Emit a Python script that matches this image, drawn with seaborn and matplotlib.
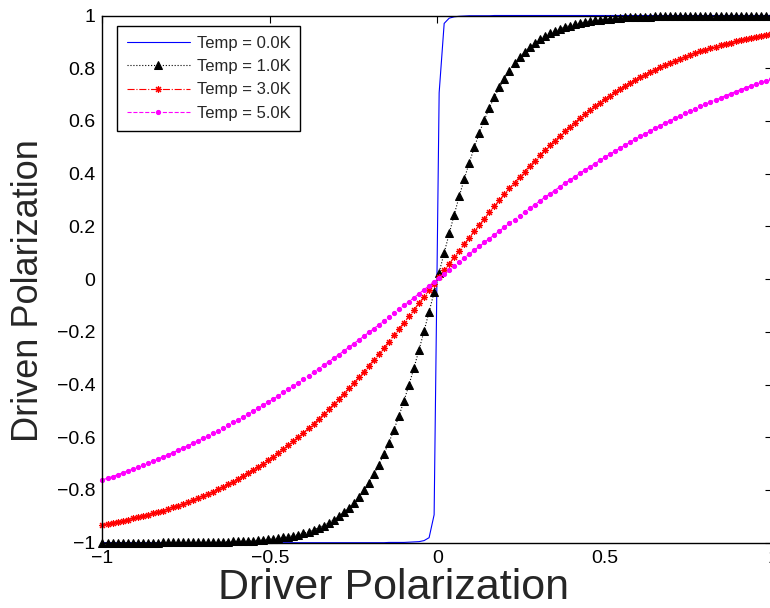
import numpy as np
import matplotlib
matplotlib.use("Agg")
import matplotlib.pyplot as plt
from matplotlib.ticker import FuncFormatter
import seaborn as sns

# %% — data (driver polarization grid, step 0.015)
driver_pol = [
    -1.000, -0.985, -0.970, -0.955, -0.940, -0.925, -0.910, -0.895, -0.880, -0.865,
    -0.850, -0.835, -0.820, -0.805, -0.790, -0.775, -0.760, -0.745, -0.730, -0.715,
    -0.700, -0.685, -0.670, -0.655, -0.640, -0.625, -0.610, -0.595, -0.580, -0.565,
    -0.550, -0.535, -0.520, -0.505, -0.490, -0.475, -0.460, -0.445, -0.430, -0.415,
    -0.400, -0.385, -0.370, -0.355, -0.340, -0.325, -0.310, -0.295, -0.280, -0.265,
    -0.250, -0.235, -0.220, -0.205, -0.190, -0.175, -0.160, -0.145, -0.130, -0.115,
    -0.100, -0.085, -0.070, -0.055, -0.040, -0.025, -0.010, 0.005, 0.020, 0.035,
    0.050, 0.065, 0.080, 0.095, 0.110, 0.125, 0.140, 0.155, 0.170, 0.185,
    0.200, 0.215, 0.230, 0.245, 0.260, 0.275, 0.290, 0.305, 0.320, 0.335,
    0.350, 0.365, 0.380, 0.395, 0.410, 0.425, 0.440, 0.455, 0.470, 0.485,
    0.500, 0.515, 0.530, 0.545, 0.560, 0.575, 0.590, 0.605, 0.620, 0.635,
    0.650, 0.665, 0.680, 0.695, 0.710, 0.725, 0.740, 0.755, 0.770, 0.785,
    0.800, 0.815, 0.830, 0.845, 0.860, 0.875, 0.890, 0.905, 0.920, 0.935,
    0.950, 0.965, 0.980, 0.995,
]

temp_0K = [
    -1.0, -1.0, -1.0, -1.0, -1.0, -1.0, -1.0, -1.0, -1.0, -1.0,
    -1.0, -1.0, -1.0, -1.0, -1.0, -1.0, -1.0, -1.0, -1.0, -1.0,
    -1.0, -1.0, -1.0, -1.0, -1.0, -1.0, -1.0, -1.0, -1.0, -1.0,
    -1.0, -1.0, -1.0, -1.0, -1.0, -1.0, -1.0, -1.0, -1.0, -1.0,
    -1.0, -1.0, -1.0, -1.0, -1.0, -1.0, -1.0, -1.0, -1.0, -1.0,
    -1.0, -1.0, -1.0, -1.0, -1.0, -1.0, -1.0, -0.999, -0.999, -0.999,
    -0.999, -0.998, -0.997, -0.996, -0.992, -0.981, -0.894, 0.707, 0.970, 0.990,
    0.995, 0.997, 0.998, 0.999, 0.999, 0.999, 0.999, 0.999, 1.0, 1.0,
    1.0, 1.0, 1.0, 1.0, 1.0, 1.0, 1.0, 1.0, 1.0, 1.0,
    1.0, 1.0, 1.0, 1.0, 1.0, 1.0, 1.0, 1.0, 1.0, 1.0,
    1.0, 1.0, 1.0, 1.0, 1.0, 1.0, 1.0, 1.0, 1.0, 1.0,
    1.0, 1.0, 1.0, 1.0, 1.0, 1.0, 1.0, 1.0, 1.0, 1.0,
    1.0, 1.0, 1.0, 1.0, 1.0, 1.0, 1.0, 1.0, 1.0, 1.0,
    1.0, 1.0, 1.0, 1.0,
]

temp_1K = [
    -1.0, -1.0, -1.0, -1.0, -1.0, -1.0, -1.0, -1.0, -1.0, -1.0,
    -1.0, -1.0, -0.999, -0.999, -0.999, -0.999, -0.999, -0.999, -0.999, -0.998,
    -0.998, -0.998, -0.998, -0.997, -0.997, -0.996, -0.995, -0.995, -0.994, -0.993,
    -0.992, -0.991, -0.989, -0.987, -0.985, -0.983, -0.980, -0.977, -0.973, -0.969,
    -0.964, -0.958, -0.952, -0.944, -0.935, -0.925, -0.914, -0.900, -0.885, -0.868,
    -0.848, -0.826, -0.800, -0.772, -0.740, -0.704, -0.664, -0.620, -0.572, -0.519,
    -0.462, -0.401, -0.336, -0.268, -0.197, -0.124, -0.050, 0.025, 0.100, 0.173,
    0.245, 0.314, 0.380, 0.442, 0.500, 0.555, 0.604, 0.650, 0.691, 0.728,
    0.761, 0.791, 0.818, 0.841, 0.862, 0.880, 0.896, 0.909, 0.922, 0.932,
    0.941, 0.949, 0.956, 0.962, 0.967, 0.972, 0.976, 0.979, 0.982, 0.984,
    0.987, 0.988, 0.990, 0.991, 0.993, 0.994, 0.995, 0.995, 0.996, 0.996,
    0.997, 0.997, 0.998, 0.998, 0.998, 0.999, 0.999, 0.999, 0.999, 0.999,
    0.999, 0.999, 0.999, 1.0, 1.0, 1.0, 1.0, 1.0, 1.0, 1.0,
    1.0, 1.0, 1.0, 1.0,
]

temp_3K = [
    -0.931, -0.928, -0.924, -0.920, -0.916, -0.912, -0.908, -0.904, -0.899, -0.894,
    -0.889, -0.884, -0.878, -0.872, -0.866, -0.860, -0.853, -0.846, -0.839, -0.831,
    -0.823, -0.815, -0.806, -0.797, -0.788, -0.779, -0.768, -0.758, -0.747, -0.736,
    -0.724, -0.712, -0.700, -0.687, -0.673, -0.659, -0.645, -0.630, -0.615, -0.599,
    -0.583, -0.566, -0.549, -0.531, -0.513, -0.494, -0.475, -0.456, -0.435, -0.415,
    -0.394, -0.373, -0.351, -0.329, -0.306, -0.284, -0.261, -0.237, -0.213, -0.189,
    -0.165, -0.141, -0.116, -0.091, -0.067, -0.042, -0.017, 0.008, 0.033, 0.058,
    0.083, 0.108, 0.133, 0.157, 0.181, 0.205, 0.229, 0.253, 0.276, 0.299,
    0.322, 0.344, 0.366, 0.387, 0.408, 0.429, 0.449, 0.469, 0.488, 0.507,
    0.525, 0.543, 0.560, 0.577, 0.594, 0.610, 0.625, 0.640, 0.655, 0.669,
    0.682, 0.695, 0.708, 0.720, 0.732, 0.744, 0.754, 0.765, 0.775, 0.785,
    0.794, 0.803, 0.812, 0.820, 0.828, 0.836, 0.844, 0.851, 0.857, 0.864,
    0.870, 0.876, 0.882, 0.887, 0.892, 0.897, 0.902, 0.907, 0.911, 0.915,
    0.919, 0.923, 0.927, 0.930,
]

temp_5K = [
    -0.762, -0.755, -0.749, -0.742, -0.735, -0.728, -0.721, -0.714, -0.706, -0.699,
    -0.691, -0.683, -0.675, -0.667, -0.658, -0.650, -0.641, -0.632, -0.623, -0.614,
    -0.604, -0.595, -0.585, -0.575, -0.565, -0.555, -0.544, -0.533, -0.523, -0.512,
    -0.501, -0.489, -0.478, -0.466, -0.454, -0.442, -0.430, -0.418, -0.405, -0.393,
    -0.380, -0.367, -0.354, -0.341, -0.327, -0.314, -0.300, -0.287, -0.273, -0.259,
    -0.245, -0.231, -0.217, -0.202, -0.188, -0.173, -0.159, -0.144, -0.129, -0.114,
    -0.100, -0.085, -0.070, -0.055, -0.040, -0.025, -0.010, 0.005, 0.020, 0.035,
    0.050, 0.065, 0.080, 0.095, 0.110, 0.124, 0.139, 0.154, 0.168, 0.183,
    0.197, 0.212, 0.226, 0.240, 0.254, 0.268, 0.282, 0.296, 0.310, 0.323,
    0.336, 0.350, 0.363, 0.376, 0.388, 0.401, 0.414, 0.426, 0.438, 0.450,
    0.462, 0.474, 0.485, 0.497, 0.508, 0.519, 0.530, 0.541, 0.551, 0.561,
    0.572, 0.582, 0.592, 0.601, 0.611, 0.620, 0.629, 0.638, 0.647, 0.656,
    0.664, 0.672, 0.680, 0.688, 0.696, 0.704, 0.711, 0.719, 0.726, 0.733,
    0.740, 0.746, 0.753, 0.759,
]

labels = ["Temp = 0.0K", "Temp = 1.0K", "Temp = 3.0K", "Temp = 5.0K"]
x_ticks = [-1, -0.5, 0, 0.5, 1]
y_ticks = [-1, -0.8, -0.6, -0.4, -0.2, 0, 0.2, 0.4, 0.6, 0.8, 1]

# %% — plot
sns.set_theme(style="white")
plt.rcParams["font.family"] = ["Liberation Sans", "DejaVu Sans"]

fig = plt.figure(figsize=(7.7, 6.08), dpi=100)
# axes run a little past the right edge of the picture, like the original crop
ax = fig.add_axes([0.1331, 0.1074, 0.8701, 0.8671])

x = np.array(driver_pol)
sns.lineplot(x=x, y=temp_0K, ax=ax, color="blue", lw=0.8, label=labels[0], clip_on=False)
sns.lineplot(x=x, y=temp_1K, ax=ax, color="black", lw=0.8, ls=":", marker="^", ms=6,
             mec="black", label=labels[1], clip_on=False)
sns.lineplot(x=x, y=temp_3K, ax=ax, color="red", lw=0.8, ls="-.", marker=(8, 2, 0), ms=5,
             mew=0.8, mec="red", label=labels[2], clip_on=False)
sns.lineplot(x=x, y=temp_5K, ax=ax, color="magenta", lw=0.8, ls="--", marker="o", ms=3,
             mec="magenta", label=labels[3], clip_on=False)

ax.set_xlim(-1, 1)
ax.set_ylim(-1, 1)
ax.set_xticks(x_ticks)
ax.set_yticks(y_ticks)
fmt = FuncFormatter(lambda v, _: "0" if abs(v) < 1e-9 else f"{v:g}".replace("-", "\u2212"))
ax.xaxis.set_major_formatter(fmt)
ax.yaxis.set_major_formatter(fmt)
ax.tick_params(direction="in", length=5, width=0.8, top=True, right=True,
               labelsize=14, colors="black", pad=5)
for s in ax.spines.values():
    s.set_color("black")
    s.set_linewidth(1.0)

ax.set_xlabel("Driver Polarization", fontsize=31)
ax.set_ylabel("Driven Polarization", fontsize=26)
ax.xaxis.set_label_coords(0.435, -0.048)
ax.xaxis.label.set_va("top")
ax.yaxis.set_label_coords(-0.085, 0.479)

ax.legend(loc="upper left", bbox_to_anchor=(0.0212, 0.9807), borderaxespad=0, fontsize=12,
          fancybox=False, edgecolor="black", framealpha=1, handlelength=3.8,
          borderpad=0.6, labelspacing=0.5, handletextpad=0.4)

fig.savefig("out.png", dpi=100)
